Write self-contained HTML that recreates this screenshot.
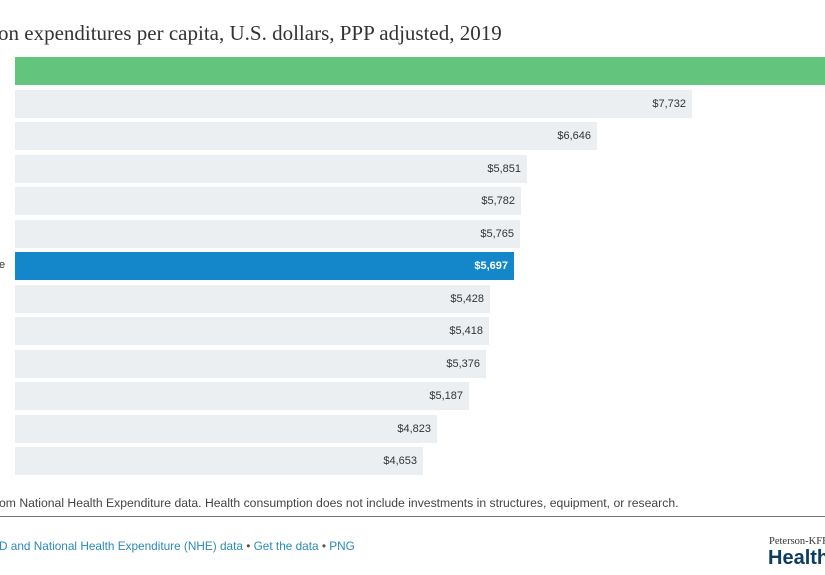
<!DOCTYPE html>
<html><head><style>
body{margin:0;width:825px;height:575px;background:#fff;overflow:hidden;position:relative;font-family:"Liberation Sans",sans-serif}
.t{position:absolute;left:-2px;top:21px;font-family:"Liberation Serif",serif;font-size:21px;color:#333;white-space:nowrap}
.b{position:absolute;left:15px;height:28px;background:#ebeff2}
.v{position:absolute;font-size:11px;color:#333;top:8px;right:6px}
.n{position:absolute;font-size:12px;color:#555;white-space:nowrap}
.l{color:#2a8ab8}
</style></head><body>
<div class="t">on expenditures per capita, U.S. dollars, PPP adjusted, 2019</div>
<div class="b" style="top:57px;width:810px;background:#63c47e"></div>
<div class="b" style="top:90px;width:677px"><span class="v">$7,732</span></div>
<div class="b" style="top:122px;width:582px"><span class="v">$6,646</span></div>
<div class="b" style="top:155px;width:512px"><span class="v">$5,851</span></div>
<div class="b" style="top:187px;width:506px"><span class="v">$5,782</span></div>
<div class="b" style="top:220px;width:505px"><span class="v">$5,765</span></div>
<div class="b" style="top:252px;width:499px;background:#1387c9"><span class="v" style="color:#fff;font-weight:bold">$5,697</span></div>
<div class="n" style="left:-1px;top:259px;font-size:11px;color:#333">e</div>
<div class="b" style="top:285px;width:475px"><span class="v">$5,428</span></div>
<div class="b" style="top:317px;width:474px"><span class="v">$5,418</span></div>
<div class="b" style="top:350px;width:471px"><span class="v">$5,376</span></div>
<div class="b" style="top:382px;width:454px"><span class="v">$5,187</span></div>
<div class="b" style="top:415px;width:422px"><span class="v">$4,823</span></div>
<div class="b" style="top:447px;width:408px"><span class="v">$4,653</span></div>
<div class="n" style="left:-1px;top:496px;font-size:12.2px;color:#444">om National Health Expenditure data. Health consumption does not include investments in structures, equipment, or research.</div>
<div style="position:absolute;left:0;top:516px;width:825px;height:1px;background:#777"></div>
<div class="n" style="left:-1px;top:539px;font-size:11.8px"><span class="l">D and National Health Expenditure (NHE) data</span> • <span class="l">Get the data</span> • <span class="l">PNG</span></div>
<div class="n" style="left:769px;top:536px;font-family:'Liberation Serif',serif;font-size:10.5px;color:#333">Peterson-KFF</div>
<div class="n" style="left:768px;top:547px;font-size:20px;font-weight:bold;color:#0c3c60">Health</div>
</body></html>
